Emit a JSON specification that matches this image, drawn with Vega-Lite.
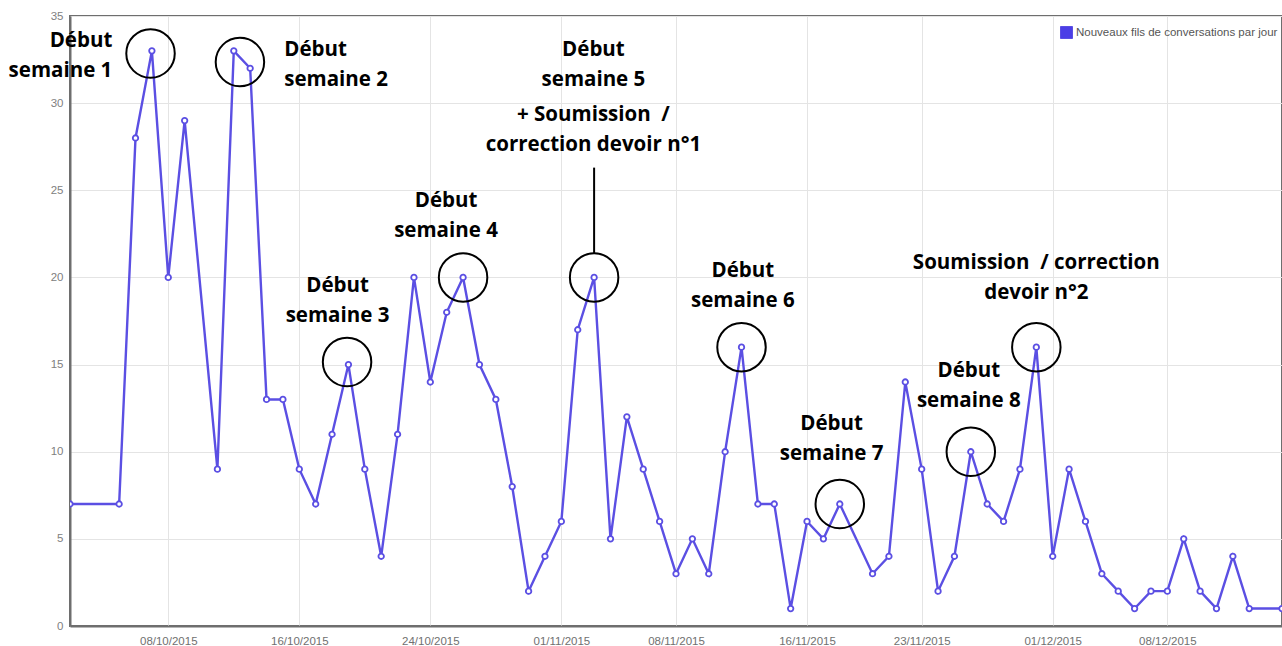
{
  "$schema": "https://vega.github.io/schema/vega-lite/v6.json",
  "width": 1212,
  "height": 610,
  "autosize": {"type": "none"},
  "padding": {"left": 70, "top": 16, "right": 0, "bottom": 20},
  "background": "white",
  "config": {
    "view": {"stroke": "#6e6e6e", "strokeWidth": 2},
    "font": "Liberation Sans"
  },
  "datasets": {
    "series": [
      {"date": "2015-10-02", "value": 7},
      {"date": "2015-10-05", "value": 7},
      {"date": "2015-10-06", "value": 28},
      {"date": "2015-10-07", "value": 33},
      {"date": "2015-10-08", "value": 20},
      {"date": "2015-10-09", "value": 29},
      {"date": "2015-10-11", "value": 9},
      {"date": "2015-10-12", "value": 33},
      {"date": "2015-10-13", "value": 32},
      {"date": "2015-10-14", "value": 13},
      {"date": "2015-10-15", "value": 13},
      {"date": "2015-10-16", "value": 9},
      {"date": "2015-10-17", "value": 7},
      {"date": "2015-10-18", "value": 11},
      {"date": "2015-10-19", "value": 15},
      {"date": "2015-10-20", "value": 9},
      {"date": "2015-10-21", "value": 4},
      {"date": "2015-10-22", "value": 11},
      {"date": "2015-10-23", "value": 20},
      {"date": "2015-10-24", "value": 14},
      {"date": "2015-10-25", "value": 18},
      {"date": "2015-10-26", "value": 20},
      {"date": "2015-10-27", "value": 15},
      {"date": "2015-10-28", "value": 13},
      {"date": "2015-10-29", "value": 8},
      {"date": "2015-10-30", "value": 2},
      {"date": "2015-10-31", "value": 4},
      {"date": "2015-11-01", "value": 6},
      {"date": "2015-11-02", "value": 17},
      {"date": "2015-11-03", "value": 20},
      {"date": "2015-11-04", "value": 5},
      {"date": "2015-11-05", "value": 12},
      {"date": "2015-11-06", "value": 9},
      {"date": "2015-11-07", "value": 6},
      {"date": "2015-11-08", "value": 3},
      {"date": "2015-11-09", "value": 5},
      {"date": "2015-11-10", "value": 3},
      {"date": "2015-11-11", "value": 10},
      {"date": "2015-11-12", "value": 16},
      {"date": "2015-11-13", "value": 7},
      {"date": "2015-11-14", "value": 7},
      {"date": "2015-11-15", "value": 1},
      {"date": "2015-11-16", "value": 6},
      {"date": "2015-11-17", "value": 5},
      {"date": "2015-11-18", "value": 7},
      {"date": "2015-11-20", "value": 3},
      {"date": "2015-11-21", "value": 4},
      {"date": "2015-11-22", "value": 14},
      {"date": "2015-11-23", "value": 9},
      {"date": "2015-11-24", "value": 2},
      {"date": "2015-11-25", "value": 4},
      {"date": "2015-11-26", "value": 10},
      {"date": "2015-11-27", "value": 7},
      {"date": "2015-11-28", "value": 6},
      {"date": "2015-11-29", "value": 9},
      {"date": "2015-11-30", "value": 16},
      {"date": "2015-12-01", "value": 4},
      {"date": "2015-12-02", "value": 9},
      {"date": "2015-12-03", "value": 6},
      {"date": "2015-12-04", "value": 3},
      {"date": "2015-12-05", "value": 2},
      {"date": "2015-12-06", "value": 1},
      {"date": "2015-12-07", "value": 2},
      {"date": "2015-12-08", "value": 2},
      {"date": "2015-12-09", "value": 5},
      {"date": "2015-12-10", "value": 2},
      {"date": "2015-12-11", "value": 1},
      {"date": "2015-12-12", "value": 4},
      {"date": "2015-12-13", "value": 1},
      {"date": "2015-12-15", "value": 1}
    ],
    "circles": [
      {"date": "2015-10-06T22:00:00Z", "value": 32.85},
      {"date": "2015-10-12T09:00:00Z", "value": 32.36},
      {"date": "2015-10-18T22:00:00Z", "value": 15.15},
      {"date": "2015-10-26T00:00:00Z", "value": 20},
      {"date": "2015-11-03T00:00:00Z", "value": 20},
      {"date": "2015-11-12T00:00:00Z", "value": 16},
      {"date": "2015-11-18T00:00:00Z", "value": 7},
      {"date": "2015-11-26T00:00:00Z", "value": 10},
      {"date": "2015-11-30T00:00:00Z", "value": 16}
    ],
    "pointer": [
      {"date": "2015-11-03T00:00:00Z", "value": 26.3, "value2": 21.4}
    ],
    "notes": [
      {"id": "s1", "date": "2015-10-04T14:00:00Z", "value": 33.55, "label": "Début\nsemaine 1"},
      {"id": "s2", "date": "2015-10-15T02:00:00Z", "value": 33.03, "label": "Début\nsemaine 2"},
      {"id": "s3", "date": "2015-10-18T08:00:00Z", "value": 19.51, "label": "Début\nsemaine 3"},
      {"id": "s4", "date": "2015-10-24T23:00:00Z", "value": 24.37, "label": "Début\nsemaine 4"},
      {"id": "s5", "date": "2015-11-02T23:00:00Z", "value": 33.05, "label": "Début\nsemaine 5"},
      {"id": "d1", "date": "2015-11-02T23:00:00Z", "value": 29.3, "label": "+ Soumission\u00a0 /\ncorrection devoir n°1"},
      {"id": "s6", "date": "2015-11-12T02:00:00Z", "value": 20.37, "label": "Début\nsemaine 6"},
      {"id": "s7", "date": "2015-11-17T12:00:00Z", "value": 11.57, "label": "Début\nsemaine 7"},
      {"id": "s8", "date": "2015-11-25T21:00:00Z", "value": 14.63, "label": "Début\nsemaine 8"},
      {"id": "d2", "date": "2015-11-30T00:00:00Z", "value": 20.85, "label": "Soumission\u00a0 / correction\ndevoir n°2"}
    ]
  },
  "encoding": {
    "x": {
      "field": "date",
      "type": "temporal",
      "scale": {
        "type": "utc",
        "domain": [
          {"year": 2015, "month": 10, "date": 2, "utc": true},
          {"year": 2015, "month": 12, "date": 15, "utc": true}
        ]
      },
      "axis": {
        "title": null,
        "format": "%d/%m/%Y",
        "values": [
          {"year": 2015, "month": 10, "date": 8, "utc": true},
          {"year": 2015, "month": 10, "date": 16, "utc": true},
          {"year": 2015, "month": 10, "date": 24, "utc": true},
          {"year": 2015, "month": 11, "date": 1, "utc": true},
          {"year": 2015, "month": 11, "date": 8, "utc": true},
          {"year": 2015, "month": 11, "date": 16, "utc": true},
          {"year": 2015, "month": 11, "date": 23, "utc": true},
          {"year": 2015, "month": 12, "date": 1, "utc": true},
          {"year": 2015, "month": 12, "date": 8, "utc": true}
        ],
        "grid": true,
        "gridColor": "#e4e4e4",
        "gridWidth": 1,
        "domainColor": "#6e6e6e",
        "domainWidth": 2,
        "ticks": false,
        "labelColor": "#707070",
        "labelFont": "Liberation Sans",
        "labelFontSize": 11.5,
        "labelPadding": 9
      }
    },
    "y": {
      "field": "value",
      "type": "quantitative",
      "scale": {"domain": [0, 35], "nice": false},
      "axis": {
        "title": null,
        "values": [0, 5, 10, 15, 20, 25, 30, 35],
        "grid": true,
        "gridColor": "#e4e4e4",
        "gridWidth": 1,
        "domainColor": "#6e6e6e",
        "domainWidth": 2,
        "ticks": false,
        "labelColor": "#808080",
        "labelFont": "Liberation Sans",
        "labelFontSize": 11.5,
        "labelPadding": 7
      }
    }
  },
  "layer": [
    {
      "data": {"name": "series"},
      "mark": {"type": "line", "strokeWidth": 2.4, "clip": true},
      "encoding": {
        "color": {
          "datum": "Nouveaux fils de conversations par jour",
          "scale": {"range": ["#5b4fe3"]},
          "legend": {
            "title": null,
            "orient": "none",
            "legendX": 990,
            "legendY": 10,
            "padding": 0,
            "symbolType": "square",
            "symbolSize": 144,
            "symbolFillColor": "#4b3ee6",
            "symbolStrokeColor": "#a0a0a0",
            "symbolStrokeWidth": 1,
            "labelFont": "Liberation Sans",
            "labelFontSize": 11.5,
            "labelColor": "#555555",
            "labelOffset": 3,
            "labelLimit": 300
          }
        }
      }
    },
    {
      "data": {"name": "series"},
      "mark": {"type": "point", "shape": "circle", "filled": false, "fill": "white", "fillOpacity": 1, "stroke": "#5b4fe3", "strokeWidth": 1.8, "size": 30, "opacity": 1, "clip": true}
    },
    {
      "data": {"name": "circles"},
      "mark": {"type": "point", "shape": "circle", "filled": false, "stroke": "black", "strokeWidth": 2, "size": 2350, "opacity": 1}
    },
    {
      "data": {"name": "pointer"},
      "mark": {"type": "rule", "color": "black", "strokeWidth": 2},
      "encoding": {"y2": {"field": "value2"}}
    },
    {
      "data": {"name": "notes"},
      "transform": [{"filter": "datum.id === 's1'"}],
      "mark": {"type": "text", "align": "right", "baseline": "middle", "lineBreak": "\n", "lineHeight": 30, "font": "Open Sans", "fontWeight": "bold", "fontSize": 20.5, "color": "black"},
      "encoding": {"text": {"field": "label", "type": "nominal"}}
    },
    {
      "data": {"name": "notes"},
      "transform": [{"filter": "datum.id === 's2'"}],
      "mark": {"type": "text", "align": "left", "baseline": "middle", "lineBreak": "\n", "lineHeight": 30, "font": "Open Sans", "fontWeight": "bold", "fontSize": 20.5, "color": "black"},
      "encoding": {"text": {"field": "label", "type": "nominal"}}
    },
    {
      "data": {"name": "notes"},
      "transform": [{"filter": "datum.id !== 's1' && datum.id !== 's2'"}],
      "mark": {"type": "text", "align": "center", "baseline": "middle", "lineBreak": "\n", "lineHeight": 30, "font": "Open Sans", "fontWeight": "bold", "fontSize": 20.5, "color": "black"},
      "encoding": {"text": {"field": "label", "type": "nominal"}}
    }
  ]
}
